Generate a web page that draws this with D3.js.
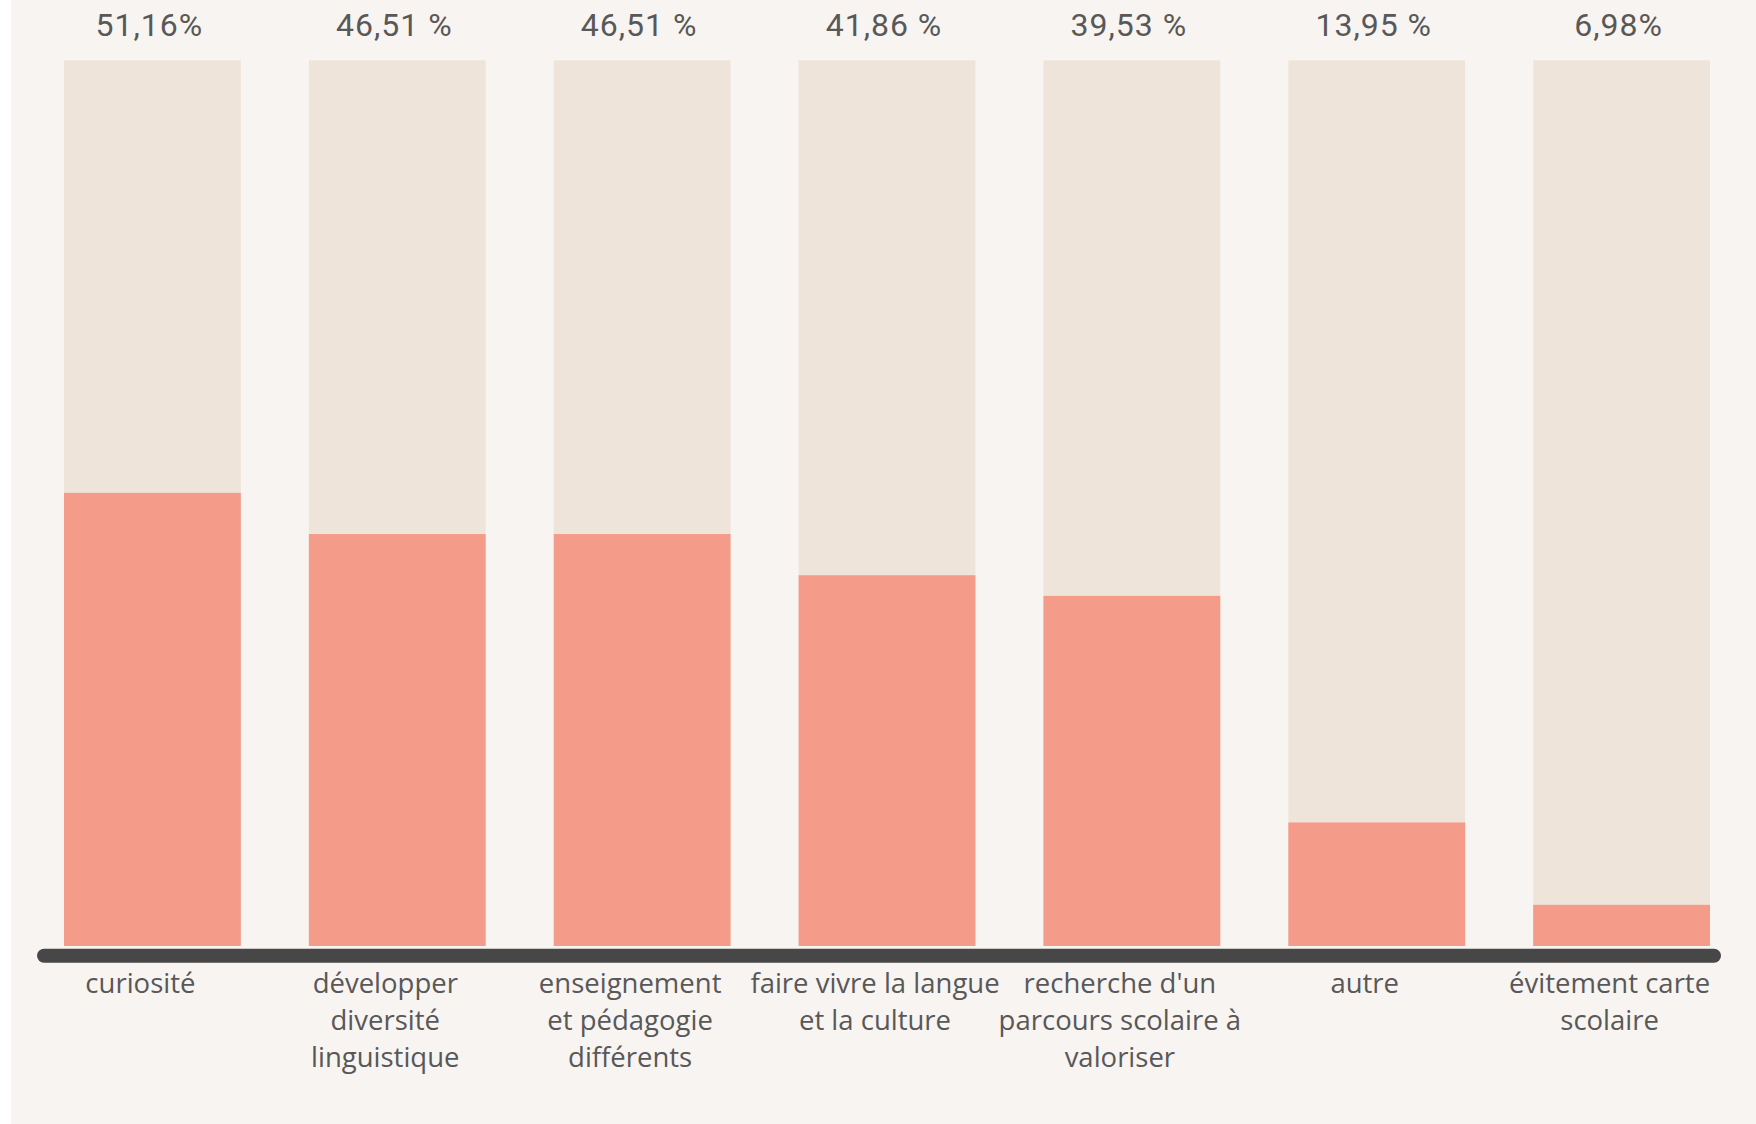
<!DOCTYPE html>
<html>
<head>
<meta charset="utf-8">
<script src="https://cdn.jsdelivr.net/npm/d3@7"></script>
<style>
  html, body { margin: 0; padding: 0; background: #ffffff; }
  svg { display: block; }
</style>
</head>
<body>
<svg id="chart" width="1756" height="1124"></svg>
<script>
// ---- data ----
const categories = [
  ["curiosité"],
  ["développer", "diversité", "linguistique"],
  ["enseignement", "et pédagogie", "différents"],
  ["faire vivre la langue", "et la culture"],
  ["recherche d'un", "parcours scolaire à", "valoriser"],
  ["autre"],
  ["évitement carte", "scolaire"]
];
const barValues = [51.16, 46.51, 46.51, 41.86, 39.53, 13.95, 4.65];
const valueLabels = ["51,16%", "46,51 %", "46,51 %", "41,86 %", "39,53 %", "13,95 %", "6,98%"];
const yDomain = [0, 100];

// ---- layout ----
const W = 1756, H = 1124;
const svg = d3.select("#chart");

svg.append("rect").attr("x", 11).attr("y", 0).attr("width", W - 11).attr("height", H)
  .attr("fill", "#f8f4f1");

const idx = categories.map((d, i) => i);
const x = d3.scaleBand().domain(idx).range([64, 1710]).paddingInner(0.278).paddingOuter(0);
const y = d3.scaleLinear().domain(yDomain).range([946, 60.3]);

// background (100%) bars
svg.append("g").selectAll("rect").data(idx).join("rect")
  .attr("x", i => x(i))
  .attr("y", y(yDomain[1]))
  .attr("width", x.bandwidth())
  .attr("height", y(yDomain[0]) - y(yDomain[1]))
  .attr("fill", "#efe4d9");

// value bars
svg.append("g").selectAll("rect").data(idx).join("rect")
  .attr("x", i => x(i))
  .attr("y", i => y(barValues[i]))
  .attr("width", x.bandwidth())
  .attr("height", i => y(0) - y(barValues[i]))
  .attr("fill", "#f59b8a");

// baseline bar
const axisY = 955.7;
svg.append("line")
  .attr("x1", x.range()[0] - 20).attr("x2", x.range()[1] + 4)
  .attr("y1", axisY).attr("y2", axisY)
  .attr("stroke", "#474747").attr("stroke-width", 14).attr("stroke-linecap", "round");

// top value labels
svg.append("g").selectAll("text").data(idx).join("text")
  .attr("x", i => x(i) + x.bandwidth() / 2 - 3)
  .attr("y", 36)
  .attr("text-anchor", "middle")
  .attr("font-family", "Roboto, 'Open Sans', sans-serif")
  .attr("font-size", 32)
  .attr("letter-spacing", 1)
  .attr("fill", "#585858")
  .text(i => valueLabels[i]);

// category labels via axis
const xAxis = d3.axisBottom(x).tickSize(0).tickPadding(0).tickFormat(() => "");
const gAxis = svg.append("g").attr("transform", `translate(-12,${axisY})`).call(xAxis);
gAxis.select(".domain").remove();
gAxis.selectAll(".tick text").each(function(i) {
  const t = d3.select(this);
  t.text(null)
    .attr("y", 37)
    .attr("font-family", "'Open Sans', Lato, sans-serif")
    .attr("font-size", 27.5)
    .attr("fill", "#585858")
    .attr("text-anchor", "middle");
  categories[i].forEach((line, k) => {
    t.append("tspan").attr("x", 0).attr("dy", k === 0 ? 0 : 37).text(line);
  });
});
</script>
</body>
</html>
